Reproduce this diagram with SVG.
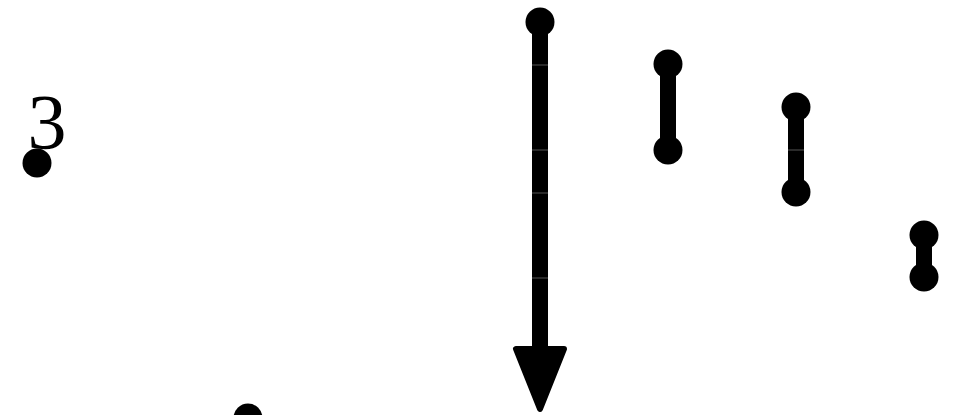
<svg xmlns="http://www.w3.org/2000/svg" width="965" height="415" viewBox="0 0 965 415">
<style>
.dot{fill:#000}
.bar{stroke:#000;stroke-width:16;fill:none}
.seam{stroke:#555;stroke-width:1}
.lbl{font-family:"Liberation Serif",serif;font-size:78px;fill:#000}
</style>
<rect width="965" height="415" fill="#fff"/>
<g id="connectors">
<line class="bar" x1="540" y1="22" x2="540" y2="352"/>
<polygon points="516,349 564,349 540,409" fill="#000" stroke="#000" stroke-width="6" stroke-linejoin="round"/>
<line class="seam" x1="532" y1="65" x2="548" y2="65"/>
<line class="seam" x1="532" y1="150" x2="548" y2="150"/>
<line class="seam" x1="532" y1="193" x2="548" y2="193"/>
<line class="seam" x1="532" y1="278" x2="548" y2="278"/>
<line class="bar" x1="668" y1="64" x2="668" y2="150"/>
<line class="bar" x1="796" y1="107" x2="796" y2="192"/>
<line class="seam" x1="788" y1="150" x2="804" y2="150"/>
<line class="bar" x1="924" y1="235" x2="924" y2="277"/>
</g>
<g id="n3">
<text class="lbl" x="47" y="148" text-anchor="middle">3</text>
<circle class="dot" cx="37" cy="163" r="14.5"/>
</g>
<g id="arrow-start"><circle class="dot" cx="540" cy="22" r="14.5"/></g>
<g id="s2a"><circle class="dot" cx="668" cy="64" r="14.5"/></g>
<g id="s2b"><circle class="dot" cx="668" cy="150" r="14.5"/></g>
<g id="s3a"><circle class="dot" cx="796" cy="107" r="14.5"/></g>
<g id="s3b"><circle class="dot" cx="796" cy="192" r="14.5"/></g>
<g id="s4a"><circle class="dot" cx="924" cy="235" r="14.5"/></g>
<g id="s4b"><circle class="dot" cx="924" cy="277" r="14.5"/></g>
<g id="bottom"><circle class="dot" cx="248" cy="418" r="14.5"/></g>
</svg>
